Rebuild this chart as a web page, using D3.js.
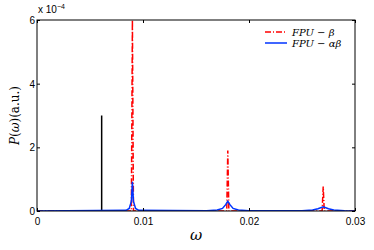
<!DOCTYPE html>
<html lang="en">
<head>
<meta charset="UTF-8">
<title>FPU spectrum</title>
<script src="https://cdnjs.cloudflare.com/ajax/libs/d3/7.8.5/d3.min.js"></script>
<style>
    html, body { margin: 0; background: #fff; }
    .tick text { font-family: "Liberation Sans", Arial, sans-serif; font-size: 10px; fill: #000; }
    .lbl { font-family: "DejaVu Serif", "Liberation Serif", serif; font-style: italic; }
</style>
</head>
<body>
<div id="vis"></div>
<script>
// omega ticks and P ticks (P in units of 1e-4)
var xTicks = [0, 0.01, 0.02, 0.03];
var yTicks = [0, 2, 4, 6];

// reference line (black)
var refOmega = [0.0061, 0.0061];
var refP = [0, 3];

// FPU-beta (red dash-dot)
var betaOmega = [0, 0.0089, 0.0090, 0.0091, 0.0179, 0.0180, 0.0181, 0.0269, 0.0270, 0.0271, 0.030];
var betaP     = [0, 0, 6.0, 0, 0, 1.9, 0, 0, 0.77, 0, 0];

// FPU-alpha-beta (blue)
var abOmega = [0, 0.0084, 0.0087, 0.0089, 0.0090, 0.0091, 0.0093, 0.0096, 0.0160, 0.0170, 0.0175, 0.0178,
    0.0180, 0.0182, 0.0185, 0.0190, 0.0200, 0.0250, 0.0260, 0.0265, 0.0270, 0.0275, 0.0280, 0.0290, 0.0300];
var abP = [0, 0.02, 0.08, 0.3, 0.92, 0.3, 0.08, 0.02, 0.01, 0.03, 0.08, 0.2,
    0.31, 0.2, 0.08, 0.03, 0.01, 0.01, 0.03, 0.07, 0.13, 0.07, 0.03, 0.01, 0.0];

var legendNames = ['FPU \u2212 \u03b2', 'FPU \u2212 \u03b1\u03b2'];

var W = 374, H = 250;
var margin = { top: 20, right: 19, bottom: 39, left: 37 };
var width = W - margin.left - margin.right;
var height = H - margin.top - margin.bottom;

var svg = d3.select('#vis').append('svg')
    .attr('width', W).attr('height', H);
var g = svg.append('g')
    .attr('transform', 'translate(' + margin.left + ',' + margin.top + ')');

var x = d3.scaleLinear().domain([0, 0.03]).range([0, width]);
var y = d3.scaleLinear().domain([0, 6]).range([height, 0]);

function pts(xs, ys) {
    return xs.map(function(v, i) { return [v, ys[i]]; });
}

var line = d3.line()
    .x(function(d) { return x(d[0]); })
    .y(function(d) { return y(Math.min(d[1], 6)); });

g.append('defs').append('clipPath').attr('id', 'clip')
    .append('rect').attr('width', width).attr('height', height);

var plot = g.append('g').attr('clip-path', 'url(#clip)');

plot.append('path')
    .datum(pts(refOmega, refP))
    .attr('d', line)
    .attr('fill', 'none')
    .attr('stroke', '#000')
    .attr('stroke-width', 1.5);

plot.append('path')
    .datum(pts(betaOmega, betaP))
    .attr('d', line)
    .attr('fill', 'none')
    .attr('stroke', '#ff0000')
    .attr('stroke-width', 1.5)
    .attr('stroke-dasharray', '6,2,1,2');

plot.append('path')
    .datum(pts(abOmega, abP))
    .attr('d', line)
    .attr('fill', 'none')
    .attr('stroke', '#0033ff')
    .attr('stroke-width', 1.5);

// axes (ticks inside, box)
var xAxis = d3.axisBottom(x).tickValues(xTicks).tickSizeInner(-3).tickSizeOuter(0)
    .tickFormat(function(d) { return d === 0 ? '0' : d3.format('.2f')(d); });
var yAxis = d3.axisLeft(y).tickValues(yTicks).tickSizeInner(-3).tickSizeOuter(0)
    .tickFormat(d3.format('d'));

var gx = g.append('g').attr('transform', 'translate(0,' + height + ')').call(xAxis);
gx.selectAll('.tick text').attr('dy', '0.9em').attr('y', 5);
var gy = g.append('g').call(yAxis);
gy.selectAll('.tick text').attr('x', -2).attr('dy', '0.35em');
g.append('g').call(d3.axisTop(x).tickValues(xTicks).tickSizeInner(-3).tickSizeOuter(0).tickFormat(''));
g.append('g').attr('transform', 'translate(' + width + ',0)')
    .call(d3.axisRight(y).tickValues(yTicks).tickSizeInner(-3).tickSizeOuter(0).tickFormat(''));
g.selectAll('.domain').remove();
g.append('rect').attr('width', width).attr('height', height)
    .attr('fill', 'none').attr('stroke', '#000').attr('stroke-width', 1);

// exponent
var ex = svg.append('text').attr('x', margin.left + 1).attr('y', 13)
    .attr('font-family', 'Liberation Sans, Arial, sans-serif').attr('font-size', 10);
ex.append('tspan').text('x 10');
ex.append('tspan').attr('dy', -4).attr('font-size', 7).text('\u22124');

// axis labels
svg.append('text').attr('class', 'lbl')
    .attr('x', 196).attr('y', 240).attr('text-anchor', 'middle')
    .attr('font-size', 15).text('\u03c9');
var yl = svg.append('text').attr('class', 'lbl')
    .attr('transform', 'translate(19,' + (margin.top + height / 2) + ') rotate(-90)')
    .attr('text-anchor', 'middle').attr('font-size', 12);
yl.append('tspan').text('P');
yl.append('tspan').attr('font-style', 'normal').text('(');
yl.append('tspan').text('\u03c9');
yl.append('tspan').attr('font-style', 'normal').text(')(a.u.)');

// legend
var colors = ['#ff0000', '#0033ff'];
var dashes = ['6,2,1,2', null];
var lg = svg.append('g').attr('transform', 'translate(265,32)');
legendNames.forEach(function(n, i) {
    lg.append('line').attr('x1', 0).attr('x2', 22).attr('y1', i * 11).attr('y2', i * 11)
        .attr('stroke', colors[i]).attr('stroke-width', 1.5)
        .attr('stroke-dasharray', dashes[i]);
    lg.append('text').attr('class', 'lbl').attr('x', 27).attr('y', i * 11 + 4)
        .attr('font-size', 10).text(n);
});
</script>
</body>
</html>
